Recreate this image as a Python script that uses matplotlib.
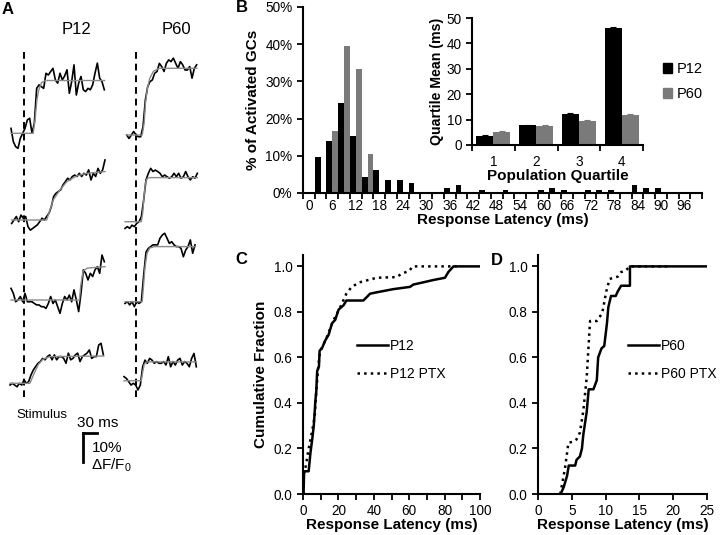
import numpy as np
import matplotlib
matplotlib.use('Agg')
import matplotlib.pyplot as plt
from matplotlib.patches import Patch

plt.rcParams['font.family'] = ['Liberation Sans', 'DejaVu Sans']
plt.rcParams['mathtext.fontset'] = 'custom'
plt.rcParams['mathtext.rm'] = 'Liberation Sans'
plt.rcParams['mathtext.it'] = 'Liberation Sans'

# ---------------- data ----------------
# A: example traces (dF/F0 in %, one frame every 5 ms), gray = fitted curve
frame_ms = 5
p12_start = [-28.5, -27.1, -28.5, -30.6]
p60_start = [-19.3, -22.9, -22.9, -25.1]

p12_trace1 = [1.7, -2.9, -4.6, -5.2, -1.7, 0, 1.7, 4.6, 5.2, 0, 3.5, 15.5, 16.7, 16.1, 15.5, 20.7,
              20.1, 21.3, 22.4, 18.4, 17.3, 20.7, 18.4, 19.8, 21.9, 13.8, 17.8, 23.6, 13.2, 17.3, 19.6,
              15.0, 14.4, 15.5, 15.0, 16.7, 20.7, 24.2, 19.0, 17.8, 15.0]
p12_trace2 = [-1.2, 0, 1.2, -0.6, 1.7, 0.6, 1.2, -2.3, -3.5, -2.9, -2.3, -1.7, -0.6, 0.6, 0, 1.2,
              2.3, 4.6, 8.1, 9.2, 9.8, 10.4, 12.1, 13.2, 14.4, 13.8, 15.0, 15.5, 15.0, 16.1, 15.0,
              16.1, 15.5, 17.3, 13.8, 16.1, 15.0, 17.8, 16.1, 17.3, 20.7]
p12_trace3 = [4.0, 2.3, -0.6, 0, 1.2, -0.6, 2.3, -0.6, -0.6, -0.6, -1.2, -1.7, -1.7, -2.3, -2.3,
              -2.9, -1.2, 1.2, -1.2, 0, -2.3, -4.6, -1.2, 1.2, 0, 1.7, -0.6, 3.5, 0, -4.0, 2.3,
              10.4, 9.2, 6.9, 9.2, 8.1, 10.4, 11.5, 9.2, 15.5, 13.2]
p12_trace4 = [-0.6, 0, -0.6, -1.2, 0, -0.6, 1.2, 0, 0.6, 2.9, 4.6, 5.8, 6.9, 7.5, 8.6, 8.1, 9.2,
              9.8, 8.1, 9.8, 8.1, 9.2, 9.2, 8.6, 6.9, 10.4, 8.1, 8.6, 9.8, 10.4, 7.5, 9.2, 9.8,
              10.4, 11.5, 8.6, 9.2, 9.2, 13.2, 13.8, 9.8]
p60_trace1 = [0, -1.2, 0, 1.2, 0, -0.6, -0.6, 2.9, 12.1, 16.7, 18.4, 19.0, 21.3, 21.9, 24.7, 23.6,
              21.9, 24.7, 25.9, 25.3, 26.5, 24.7, 23.0, 25.3, 24.2, 22.4, 22.4, 23.6, 19.6, 23.0, 24.2]
p60_trace2 = [-2.3, -1.7, -2.3, -1.2, -1.7, -0.6, 0, 1.7, 7.5, 14.4, 16.7, 18.4, 17.3, 17.8, 17.3,
              16.7, 15.5, 16.1, 15.5, 15.0, 15.5, 16.7, 15.5, 16.7, 15.0, 15.5, 17.3, 15.5, 14.4,
              15.5, 15.0, 16.7]
p60_trace3 = [-0.6, 0, -1.1, 0, -1.7, 0, -0.6, 0, 9.2, 17.1, 18.4, 19.0, 19.6, 19.6, 19.6, 21.9,
              23.0, 23.6, 21.9, 20.1, 20.7, 19.6, 19.0, 19.0, 18.4, 15.5, 17.8, 19.0, 21.3, 16.7, 19.6]
p60_trace4 = [1.4, 0.8, -0.3, -1.5, -0.9, -1.5, -3.2, -1.5, 4.8, 7.1, 6.0, 7.7, 7.1, 6.0, 6.6, 6.0,
              6.0, 6.6, 5.4, 8.3, 4.8, 6.6, 5.4, 7.1, 7.7, 5.4, 6.6, 6.0, 4.8, 7.7, 9.4, 4.8]

p12_fit_t = [[-28.5, 19, 23, 27, 31, 37, 45, 172],
             [-27.1, 48, 62, 76.5, 91, 112, 134, 173],
             [-28.5, 118, 121, 126, 135, 173],
             [-30.6, 12, 20, 30, 40, 55, 170]]
p12_fit_v = [[0, 0, 4.6, 11.5, 15.0, 17.5, 18.2, 18.2],
             [0, 0, 6.9, 10.4, 13.2, 15.2, 16.1, 16.7],
             [0, 0, 5.0, 10.0, 11.0, 11.5],
             [0, 0, 3.0, 6.5, 8.3, 9.2, 9.4]]
p60_fit_t = [[-19.3, 14, 18, 21, 25, 30, 38, 50, 131],
             [-22.9, 12, 15, 18, 21, 25, 30, 132],
             [-22.9, 14, 17, 20, 24, 30, 40, 128],
             [-25.1, 12, 15, 18, 22, 30, 130]]
p60_fit_v = [[0, 0, 4, 11, 16, 19.5, 22, 23, 23],
             [0, 0, 3, 9, 13.5, 15, 15.2, 15.2],
             [0, 0, 6, 12, 16.5, 18.5, 19, 19],
             [0, 0, 3, 5.5, 6.4, 6.5, 6.5]]

# B: latency histogram (% of activated GCs), 3 ms bins
lat_bins = list(range(0, 100, 3))
p12_hist = [0, 9.8, 14.0, 24.1, 15.4, 4.2, 6.25, 3.5, 3.5, 2.8, 0, 0, 1.4, 2.1, 0, 0.7, 0,
            0.7, 0, 0, 0.7, 1.4, 0.7, 0, 0.7, 0.7, 0.7, 0, 2.1, 1.4, 1.4, 0, 0, 0]
p60_hist = [0, 0, 16.7, 39.5, 33.3, 10.4, 0, 0, 0, 0, 0, 0, 0, 0, 0, 0, 0,
            0, 0, 0, 0, 0, 0, 0, 0, 0, 0, 0, 0, 0, 0, 0, 0, 0]

# B inset: quartile means
quartiles = [1, 2, 3, 4]
p12_qmean = [3.6, 7.7, 12.2, 46.1]
p12_qerr = [0.3, 0.3, 0.3, 0.3]
p60_qmean = [5.3, 7.6, 9.6, 11.8]
p60_qerr = [0.3, 0.3, 0.3, 0.5]

# C: cumulative fraction P12
p12_cdf_x = [0.3, 0.6, 1.0, 3.2, 4.2, 5.2, 6.1, 7.0, 7.5, 8.0, 9.0, 9.4, 10.7, 12.6, 14.5, 16.4,
             18.2, 20.1, 23.0, 24.5, 34.1, 37.9, 41.6, 51, 60.5, 62.3, 68, 73.6, 80.2, 82.1, 85, 100]
p12_cdf_y = [0, 0.09, 0.10, 0.10, 0.18, 0.24, 0.30, 0.41, 0.45, 0.54, 0.56, 0.63, 0.64, 0.675,
             0.70, 0.75, 0.765, 0.81, 0.83, 0.85, 0.85, 0.88, 0.886, 0.90, 0.91, 0.92, 0.93, 0.94,
             0.95, 0.975, 1.0, 1.0]
p12ptx_cdf_x = [0.2, 0.5, 1.5, 3.0, 5.0, 6.6, 7.5, 8.5, 9.5, 11, 13, 15, 17, 19, 21, 24.5, 27.5,
                32, 41.6, 53, 55.7, 60, 62, 88]
p12ptx_cdf_y = [0, 0.10, 0.12, 0.19, 0.27, 0.34, 0.45, 0.55, 0.62, 0.65, 0.68, 0.72, 0.76, 0.79,
                0.82, 0.88, 0.91, 0.93, 0.95, 0.953, 0.968, 0.98, 1.0, 1.0]

# D: cumulative fraction P60
p60_cdf_x = [3.35, 3.8, 4.3, 4.55, 5.5, 5.7, 6.2, 6.5, 6.7, 7.2, 7.5, 8.2, 8.7, 8.9, 9.4, 9.8,
             10.2, 10.4, 10.8, 11.5, 11.8, 12.3, 13.6, 13.6, 25]
p60_cdf_y = [0, 0.03, 0.08, 0.125, 0.125, 0.15, 0.165, 0.2, 0.26, 0.36, 0.46, 0.46, 0.5, 0.60,
             0.64, 0.65, 0.75, 0.82, 0.87, 0.87, 0.89, 0.915, 0.915, 1.0, 1.0]
p60ptx_cdf_x = [3.3, 4.0, 4.5, 5.2, 5.7, 6.2, 6.7, 7.2, 7.5, 7.7, 8.7, 9.4, 9.6, 10.1, 10.6, 11.8,
                12.3, 12.9, 13.6, 19.7]
p60ptx_cdf_y = [0, 0.115, 0.225, 0.23, 0.24, 0.27, 0.365, 0.51, 0.66, 0.76, 0.76, 0.79, 0.81,
                0.89, 0.945, 0.955, 0.975, 0.98, 1.0, 1.0]

GRAY = '#7a7a7a'
TICK_FS = 9.8
LABEL_FS = 11
W, H = 720, 535
fig = plt.figure(figsize=(W / 100, H / 100), dpi=100)


def px_axes(left, top, right, bottom):
    return fig.add_axes([left / W, 1 - bottom / H, (right - left) / W, (bottom - top) / H])


def style_axes(ax):
    for s in ['top', 'right']:
        ax.spines[s].set_visible(False)
    for s in ['left', 'bottom']:
        ax.spines[s].set_linewidth(1.5)
    ax.tick_params(direction='out', length=4, width=1.3, labelsize=TICK_FS, colors='black')
    ax.tick_params(which='minor', direction='out', length=4, width=1.3)


# ---------------- A: traces ----------------
ms_per_px = 30 / 14
pct_per_px = 10 / 29
axA = px_axes(0, 0, 230, 535)
axA.set_xlim(0, 230 * ms_per_px)
axA.set_ylim(-535 * pct_per_px, 0)
axA.axis('off')

col_stim = [24.3 * ms_per_px, 135.7 * ms_per_px]
p12_base = [133.3, 220, 300, 383.3]
p60_base = [135, 221.7, 301.7, 380.7]
columns = [
    (p12_start, [p12_trace1, p12_trace2, p12_trace3, p12_trace4], p12_fit_t, p12_fit_v, p12_base),
    (p60_start, [p60_trace1, p60_trace2, p60_trace3, p60_trace4], p60_fit_t, p60_fit_v, p60_base),
]
for c, (starts, traces, fit_t, fit_v, bases) in enumerate(columns):
    x0 = col_stim[c]
    axA.plot([x0, x0], [-52 * pct_per_px, -397 * pct_per_px], color='black', lw=1.4,
             dashes=(3.5, 2.5))
    for r in range(4):
        y0 = -bases[r] * pct_per_px
        t = starts[r] + frame_ms * np.arange(len(traces[r]))
        axA.plot(x0 + t, y0 + np.array(traces[r]), color='black', lw=1.2)
        axA.plot(x0 + np.array(fit_t[r]), y0 + np.array(fit_v[r]), color='#8a8a8a', lw=1.0)

axA.text(77 * ms_per_px, -29 * pct_per_px, 'P12', ha='center', va='center', fontsize=12)
axA.text(176 * ms_per_px, -29 * pct_per_px, 'P60', ha='center', va='center', fontsize=12)
axA.text(42 * ms_per_px, -415 * pct_per_px, 'Stimulus', ha='center', va='center', fontsize=9.5)
sx, sy = 83 * ms_per_px, -433 * pct_per_px
axA.plot([sx, sx + 30], [sy, sy], color='black', lw=2)
axA.plot([sx, sx], [sy, sy - 10], color='black', lw=2)
axA.text(sx + 32, sy + 1.2, '30 ms', ha='center', va='bottom', fontsize=11)
axA.text(sx + 19, sy - 5.2, '10%', ha='left', va='center', fontsize=11)
axA.text(sx + 17, sy - 11.2, r'$\Delta$F/F$_0$', ha='left', va='center', fontsize=11)

# ---------------- B: histogram ----------------
axB = px_axes(303, 7, 702, 193)
idx = np.arange(len(lat_bins))
axB.bar(idx - 0.25, p12_hist, width=0.5, color='black')
axB.bar(idx + 0.25, p60_hist, width=0.5, color=GRAY)
axB.set_xlim(-0.5, len(lat_bins) - 0.5)
axB.set_ylim(0, 50)
axB.set_yticks(range(0, 51, 10))
axB.set_yticklabels([f'{v}%' for v in range(0, 51, 10)])
axB.set_xticks(idx[::2])
axB.set_xticklabels([str(b) for b in lat_bins[::2]])
axB.set_xticks(np.arange(-0.5, len(lat_bins)), minor=True)
style_axes(axB)
axB.tick_params(axis='x', which='major', length=0, pad=4)
axB.set_xlabel('Response Latency (ms)', fontsize=LABEL_FS, fontweight='bold', labelpad=0)
axB.set_ylabel('% of Activated GCs', fontsize=LABEL_FS, fontweight='bold', labelpad=4)

# inset
axI = px_axes(472, 18, 643, 145)
q = np.array(quartiles)
axI.bar(q - 0.2, p12_qmean, width=0.4, color='black', yerr=p12_qerr, capsize=2,
        error_kw=dict(ecolor='black', elinewidth=0.8, capthick=0.8))
axI.bar(q + 0.2, p60_qmean, width=0.4, color=GRAY, yerr=p60_qerr, capsize=2,
        error_kw=dict(ecolor=GRAY, elinewidth=0.8, capthick=0.8))
axI.set_xlim(0.5, 4.5)
axI.set_ylim(0, 50)
axI.set_yticks(range(0, 51, 10))
axI.set_xticks(quartiles)
axI.set_xticks(np.arange(0.5, 4.6, 1), minor=True)
style_axes(axI)
axI.tick_params(axis='x', which='major', length=0, pad=7)
axI.set_xlabel('Population Quartile', fontsize=LABEL_FS, fontweight='bold', labelpad=0)
axI.set_ylabel('Quartile Mean (ms)', fontsize=10.2, fontweight='bold', labelpad=2)
fig.legend(handles=[Patch(color='black', label='P12'), Patch(color=GRAY, label='P60')],
           loc='upper left', bbox_to_anchor=(663 / W, 1 - 62 / H), frameon=False,
           fontsize=10.5, handlelength=0.65, handleheight=0.65, handletextpad=0.3,
           labelspacing=0.75, borderpad=0, borderaxespad=0)

# ---------------- C, D: cumulative fractions ----------------
axC = px_axes(303, 255, 480, 494)
axC.plot(p12_cdf_x, p12_cdf_y, color='black', lw=1.8, label='P12')
axC.plot(p12ptx_cdf_x, p12ptx_cdf_y, color='black', lw=1.8, ls=':', label='P12 PTX')
axC.set_xlim(0, 100)
axC.set_ylim(0, 1.05)
axC.set_xticks(range(0, 101, 20))
axC.set_xticks(range(0, 101, 10), minor=True)
axC.set_yticks(np.arange(0, 1.01, 0.2))
axC.set_yticklabels([f'{v:.1f}' for v in np.arange(0, 1.01, 0.2)])
style_axes(axC)
axC.set_xlabel('Response Latency (ms)', fontsize=LABEL_FS, fontweight='bold', labelpad=0)
axC.set_ylabel('Cumulative Fraction', fontsize=LABEL_FS, fontweight='bold', labelpad=4)
axC.legend(loc='upper left', bbox_to_anchor=(357 / W, 1 - 339 / H),
           bbox_transform=fig.transFigure, frameon=False, fontsize=10,
           handlelength=2.2, handletextpad=0.2, labelspacing=1.0, borderpad=0, borderaxespad=0)

axD = px_axes(538, 255, 707, 494)
axD.plot(p60_cdf_x, p60_cdf_y, color='black', lw=1.8, label='P60')
axD.plot(p60ptx_cdf_x, p60ptx_cdf_y, color='black', lw=1.8, ls=':', label='P60 PTX')
axD.set_xlim(0, 25)
axD.set_ylim(0, 1.05)
axD.set_xticks(range(0, 26, 5))
axD.set_yticks(np.arange(0, 1.01, 0.2))
axD.set_yticklabels([f'{v:.1f}' for v in np.arange(0, 1.01, 0.2)])
style_axes(axD)
axD.set_xlabel('Response Latency (ms)', fontsize=LABEL_FS, fontweight='bold', labelpad=0)
axD.legend(loc='upper left', bbox_to_anchor=(628 / W, 1 - 339 / H),
           bbox_transform=fig.transFigure, frameon=False, fontsize=10,
           handlelength=2.2, handletextpad=0.2, labelspacing=1.0, borderpad=0, borderaxespad=0)

# panel letters
for letter, x, y in [('A', 8, 9), ('B', 242, 8), ('C', 241, 259), ('D', 497, 260)]:
    fig.text(x / W, 1 - y / H, letter, fontsize=12, fontweight='bold', ha='center', va='center')

fig.savefig('out.png', dpi=100)
